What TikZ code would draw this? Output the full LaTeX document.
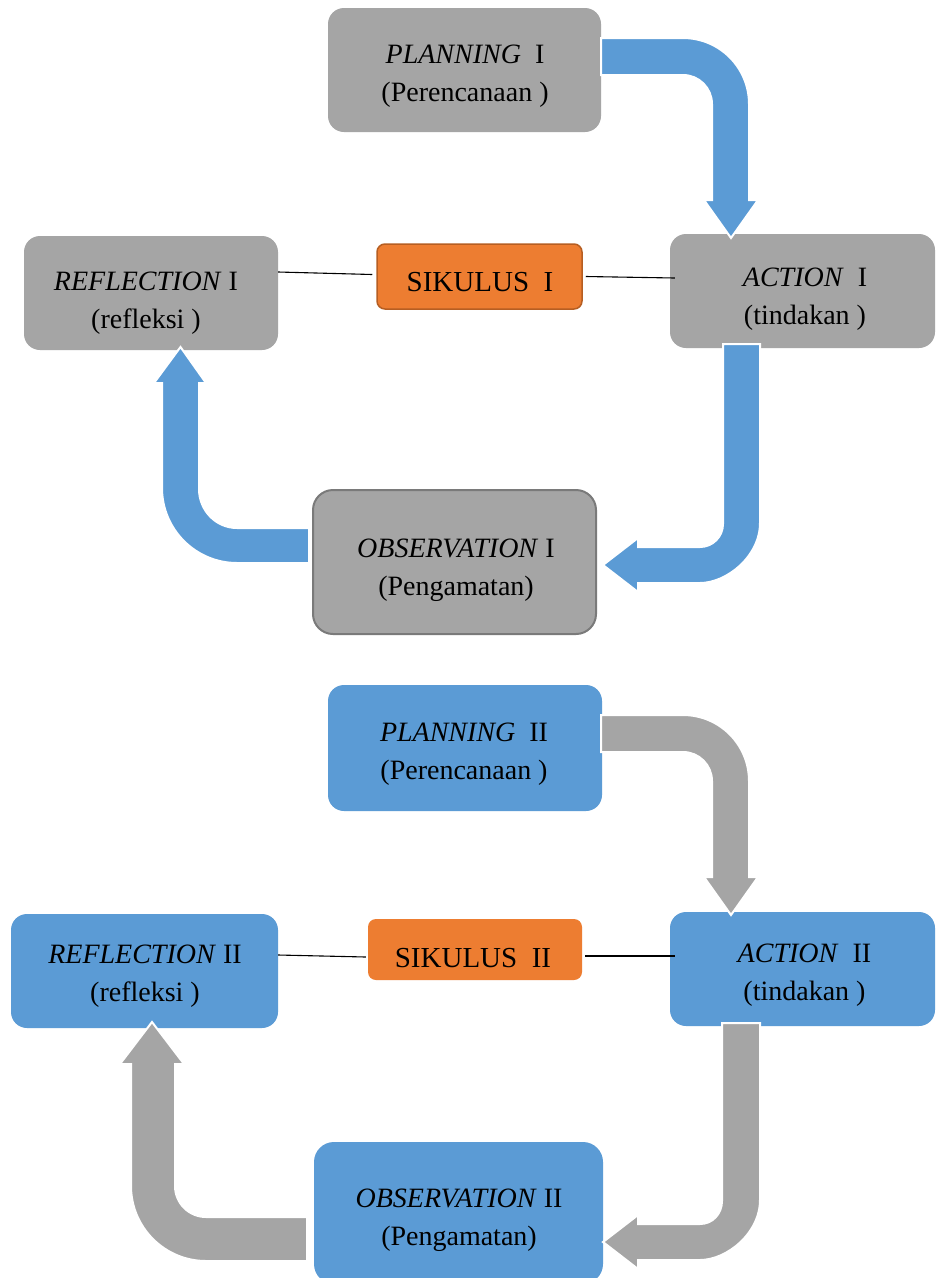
\documentclass[tikz,border=0pt]{standalone}
\usepackage{fontspec}
\setmainfont{Liberation Serif}
\definecolor{boxgrey}{HTML}{A5A5A5}
\definecolor{boxblue}{HTML}{5B9BD5}
\definecolor{boxorange}{HTML}{ED7D31}
\definecolor{orangeedge}{HTML}{B65E22}
\definecolor{greyedge}{HTML}{7A7A7A}
\tikzset{
  stage/.style={rectangle, rounded corners=16pt, inner sep=0pt},
  cyc/.style={rectangle, rounded corners=8pt, inner sep=0pt, fill=boxorange},
  txt/.style={align=center, inner sep=0pt, font=\fontsize{28}{38}\selectfont},
  stxt/.style={inner sep=0pt, font=\fontsize{29}{35}\selectfont},
  link/.style={draw=black, line width=1.1pt},
  blockarrow/.style={draw=white, line width=2pt, line join=miter},
}
\begin{document}
\begin{tikzpicture}[x=1pt,y=-1pt]
\clip (0,0) rectangle (936,1278);
\fill[white] (0,0) rectangle (936,1278);

% ---------- cycle I boxes ----------
\node[stage, fill=boxgrey, minimum width=273pt, minimum height=124pt] (p1) at (464.5,70) {};
\node[stage, fill=boxgrey, minimum width=265pt, minimum height=114pt] (a1) at (802.5,291) {};
\node[cyc, draw=orangeedge, line width=1.5pt, minimum width=205pt, minimum height=65pt] (s1) at (479.5,276.5) {};
\node[stage, fill=boxgrey, minimum width=254pt, minimum height=114pt] (r1) at (151,293) {};
\node[stage, rounded corners=20pt, fill=boxgrey, draw=greyedge, line width=2pt, minimum width=283pt, minimum height=144pt] (o1) at (454.5,562) {};

% ---------- cycle II boxes ----------
\node[stage, fill=boxblue, minimum width=274pt, minimum height=126pt] (p2) at (465,748) {};
\node[stage, fill=boxblue, minimum width=265pt, minimum height=114pt] (a2) at (802.5,969) {};
\node[cyc, minimum width=214pt, minimum height=61pt] (s2) at (475,949.5) {};
\node[stage, fill=boxblue, minimum width=267pt, minimum height=114pt] (r2) at (144.5,971) {};
\node[stage, rounded corners=20pt, fill=boxblue, minimum width=289pt, minimum height=142pt] (o2) at (458.5,1213) {};

% ---------- connector lines ----------
\draw[link] ([yshift=21pt]r1.east) -- ([xshift=-4pt,yshift=2pt]s1.west);
\draw[link] ([xshift=3pt]s1.east) -- ([xshift=5pt,yshift=13pt]a1.west);
\draw[link] ([yshift=16pt]r2.east) -- ([xshift=-2pt,yshift=-7.5pt]s2.west);
\draw[link] ([xshift=3pt,yshift=-6.5pt]s2.east) -- ([xshift=5pt,yshift=13pt]a2.west);

% ---------- texts ----------
\node[txt] (p1t) at (465,76.5) {\textit{PLANNING}\ \ I\\(Perencanaan\ )};
\node[txt] (a1t) at (805,299.5) {\textit{ACTION}\ \ I\\(tindakan\ )};
\node[stxt] (s1t) at (480,282.5) {SIKULUS\ \ I};
\node[txt] (r1t) at (146,303) {\textit{REFLECTION} I\\(refleksi\ )};
\node[txt] (o1t) at (456,570) {\textit{OBSERVATION} I\\(Pengamatan)};

\node[txt] (p2t) at (464,754) {\textit{PLANNING}\ \ II\\(Perencanaan\ )};
\node[txt] (a2t) at (804.5,975.5) {\textit{ACTION}\ \ II\\(tindakan\ )};
\node[stxt] (s2t) at (473,958) {SIKULUS\ \ II};
\node[txt] (r2t) at (145,976) {\textit{REFLECTION} II\\(refleksi\ )};
\node[txt] (o2t) at (459,1220.5) {\textit{OBSERVATION} II\\(Pengamatan)};

% ---------- block arrows, cycle I (blue) ----------
\filldraw[blockarrow, fill=boxblue] (601,38) -- (683,38) .. controls (719.5,38) and (749,67.5) .. (749,104) -- (749,200) -- (758,200) -- (731,238) -- (704,200) -- (712,200) -- (712,104) .. controls (712,88) and (699,75) .. (683,75) -- (601,75) -- cycle;
\filldraw[blockarrow, fill=boxblue] (723,344) -- (760,344) -- (760,523) .. controls (760,556.1) and (726.9,583) .. (700,583) -- (638,583) -- (638,592) -- (603,565) -- (638,538) -- (638,547) -- (700,547) .. controls (712.7,547) and (723,536.7) .. (723,524) -- cycle;
\filldraw[blockarrow, fill=boxblue] (309,528) -- (237,528) .. controls (216,528) and (199,510.5) .. (199,489) -- (199,383) -- (206,383) -- (180.5,347) -- (154,383) -- (162,383) -- (162,488) .. controls (162,529.4) and (195.6,563) .. (237,563) -- (309,563) -- cycle;

% ---------- block arrows, cycle II (grey) ----------
\begin{scope}[shift={(0,677)}]
\filldraw[blockarrow, fill=boxgrey] (601,38) -- (683,38) .. controls (719.5,38) and (749,67.5) .. (749,104) -- (749,200) -- (758,200) -- (731,238) -- (704,200) -- (712,200) -- (712,104) .. controls (712,88) and (699,75) .. (683,75) -- (601,75) -- cycle;
\filldraw[blockarrow, fill=boxgrey] (722,346) -- (760,346) -- (760,523) .. controls (760,556.1) and (726.9,583) .. (700,583) -- (638,583) -- (638,592) -- (603,565) -- (638,538) -- (638,547) -- (700,547) .. controls (712.7,547) and (722,536.7) .. (722,524) -- cycle;
\end{scope}
\filldraw[blockarrow, fill=boxgrey] (307,1217) -- (206,1217) .. controls (188.9,1217) and (175,1203.1) .. (175,1186) -- (175,1064) -- (184,1064) -- (152,1022) -- (120,1064) -- (131,1064) -- (131,1186) .. controls (131,1227.4) and (164.6,1261) .. (206,1261) -- (307,1261) -- cycle;
\end{tikzpicture}
\end{document}
